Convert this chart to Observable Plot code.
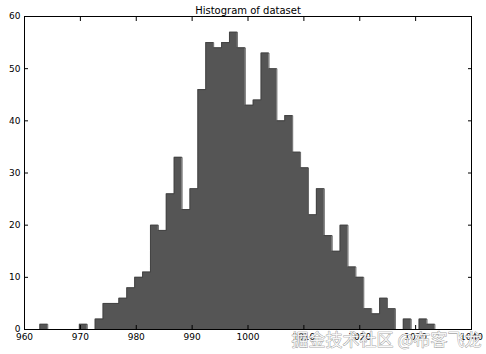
<!DOCTYPE html>
<html>
<head>
<meta charset="utf-8">
<script src="https://cdn.jsdelivr.net/npm/d3@7"></script>
<script src="https://cdn.jsdelivr.net/npm/@observablehq/plot@0.6"></script>
<style>
  html, body { margin: 0; padding: 0; background: #fff; }
  #chart svg { display: block; }
</style>
</head>
<body>
<div id="chart"></div>
<script>
// Histogram counts per bin (50 bins)
const counts = [1, 0, 0, 0, 0, 1, 0, 2, 5, 5,
                6, 8, 10, 11, 20, 19, 26, 33, 23, 27,
                46, 55, 54, 55, 57, 54, 43, 44, 53, 50,
                40, 41, 34, 31, 22, 27, 18, 15, 20, 12,
                10, 4, 3, 6, 4, 0, 2, 0, 2, 1];
const binStart = 962.75;
const binWidth = 1.414;
const xTicks = [960, 970, 980, 990, 1000, 1010, 1020, 1030, 1040];
const yTicks = [0, 10, 20, 30, 40, 50, 60];
const titleText = "Histogram of dataset";
const watermark = "掘金技术社区 @布客飞龙";

const bins = counts.map((c, i) => ({x1: binStart + i * binWidth, x2: binStart + (i + 1) * binWidth, count: c}));
const outline = [{x: binStart, y: 0}]
  .concat(bins.map(b => ({x: b.x1, y: b.count})))
  .concat([{x: bins[bins.length - 1].x2, y: 0}]);

const font = "DejaVu Sans, sans-serif";

const chart = Plot.plot({
  width: 486,
  height: 354,
  marginLeft: 24,
  marginRight: 15,
  marginTop: 16,
  marginBottom: 25,
  style: {fontFamily: font, fontSize: "9px", color: "#000", background: "#fff"},
  x: {domain: [960, 1040]},
  y: {domain: [0, 60]},
  marks: [
    Plot.areaY(outline, {x: "x", y: "y", curve: "step-after", fill: "#555555"}),
    Plot.line(outline, {x: "x", y: "y", curve: "step-after", stroke: "#404040", strokeWidth: 0.8}),
    Plot.frame({stroke: "#000", strokeWidth: 1}),
    // labels
    Plot.axisX({ticks: xTicks, tickSize: 0, tickPadding: 4, label: null, tickFormat: d => String(d)}),
    Plot.axisY({ticks: yTicks, tickSize: 0, tickPadding: 4, label: null}),
    // inward ticks on all sides
    Plot.axisX({ticks: xTicks, anchor: "bottom", tickSize: -4, tickFormat: () => "", label: null}),
    Plot.axisX({ticks: xTicks, anchor: "top", tickSize: -4, tickFormat: () => "", label: null}),
    Plot.axisY({ticks: yTicks, anchor: "left", tickSize: -4, tickFormat: () => "", label: null}),
    Plot.axisY({ticks: yTicks, anchor: "right", tickSize: -4, tickFormat: () => "", label: null}),
    Plot.text([titleText], {frameAnchor: "top", dy: -3, fontSize: 10, fill: "#000", lineAnchor: "bottom"}),
    Plot.text([watermark], {frameAnchor: "bottom-right", dx: 10, dy: 16, textAnchor: "end", fontSize: 17,
      fontFamily: "Noto Sans CJK SC, sans-serif", fill: "#ffffff", fillOpacity: 0.85, stroke: "#8a8a8a", strokeWidth: 0.7})
  ]
});
document.getElementById("chart").appendChild(chart);
</script>
</body>
</html>
